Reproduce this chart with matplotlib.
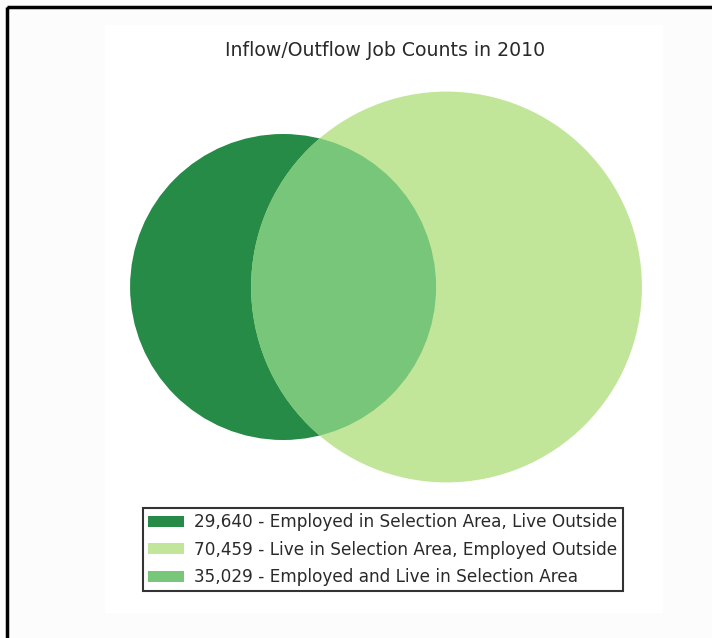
import numpy as np
import matplotlib
matplotlib.use("Agg")
import matplotlib.pyplot as plt
from matplotlib.patches import Circle, Rectangle, Patch

# job counts
employed_live_outside = 29640
live_employed_outside = 70459
employed_and_live = 35029

labels = [
    "29,640 - Employed in Selection Area, Live Outside",
    "70,459 - Live in Selection Area, Employed Outside",
    "35,029 - Employed and Live in Selection Area",
]
colors = ["#258b47", "#c2e699", "#78c679"]
title = "Inflow/Outflow Job Counts in 2010"


def lens_area(r1, r2, d):
    if d >= r1 + r2:
        return 0.0
    if d <= abs(r1 - r2):
        return np.pi * min(r1, r2) ** 2
    a1 = r1 ** 2 * np.arccos((d ** 2 + r1 ** 2 - r2 ** 2) / (2 * d * r1))
    a2 = r2 ** 2 * np.arccos((d ** 2 + r2 ** 2 - r1 ** 2) / (2 * d * r2))
    k = 0.5 * np.sqrt((-d + r1 + r2) * (d + r1 - r2) * (d - r1 + r2) * (d + r1 + r2))
    return a1 + a2 - k


# radii from total areas, distance solved so the lens area matches the overlap
area_work = employed_live_outside + employed_and_live
area_home = live_employed_outside + employed_and_live
r_work = np.sqrt(area_work / np.pi)
r_home = np.sqrt(area_home / np.pi)
lo, hi = abs(r_home - r_work), r_home + r_work
for _ in range(100):
    mid = (lo + hi) / 2
    if lens_area(r_work, r_home, mid) > employed_and_live:
        lo = mid
    else:
        hi = mid
dist = (lo + hi) / 2

# scale to pixels
scale = 153 / r_work
rw, rh, dd = r_work * scale, r_home * scale, dist * scale
cx_mid, cy = 386, 287
left_edge = cx_mid - (rw + dd + rh) / 2
cx_work = left_edge + rw
cx_home = cx_work + dd

fig = plt.figure(figsize=(7.12, 6.38), dpi=100, facecolor="#fcfcfc")
ax = fig.add_axes([0, 0, 1, 1])
ax.set_xlim(0, 712)
ax.set_ylim(638, 0)
ax.set_aspect("equal")
ax.axis("off")

# outer frame and white panel
ax.add_patch(Rectangle((7, 7), 720, 650, fill=False, edgecolor="black", linewidth=2.5, zorder=1))
ax.add_patch(Rectangle((105, 25), 558, 588, facecolor="white", edgecolor="none", zorder=0))

ax.add_patch(Circle((cx_work, cy), rw, facecolor=colors[0], edgecolor="none", zorder=2))
ax.add_patch(Circle((cx_home, cy), rh, facecolor=colors[1], edgecolor="none", zorder=3))
# overlap: clip the small circle to the large one
ov = Circle((cx_work, cy), rw, facecolor=colors[2], edgecolor="none", zorder=4)
ax.add_patch(ov)
clip = Circle((cx_home, cy), rh, transform=ax.transData)
ov.set_clip_path(clip)

ax.text(385, 50, title, ha="center", va="center", fontsize=13.6, color="#2a2a2a")

handles = [Patch(facecolor=c, edgecolor="none") for c in colors]
leg = ax.legend(handles, labels, loc="upper left",
                bbox_to_anchor=(143 / 712, 1 - 508 / 638), bbox_transform=fig.transFigure,
                borderaxespad=0, fontsize=12.2, frameon=True, fancybox=False,
                handlelength=2.1, handleheight=0.62, handletextpad=0.6,
                labelspacing=0.55, borderpad=0.32)
leg.get_frame().set_edgecolor("black")
leg.get_frame().set_linewidth(1.5)
for t in leg.get_texts():
    t.set_color("#2a2a2a")

fig.savefig("out.png", dpi=100, facecolor=fig.get_facecolor())
